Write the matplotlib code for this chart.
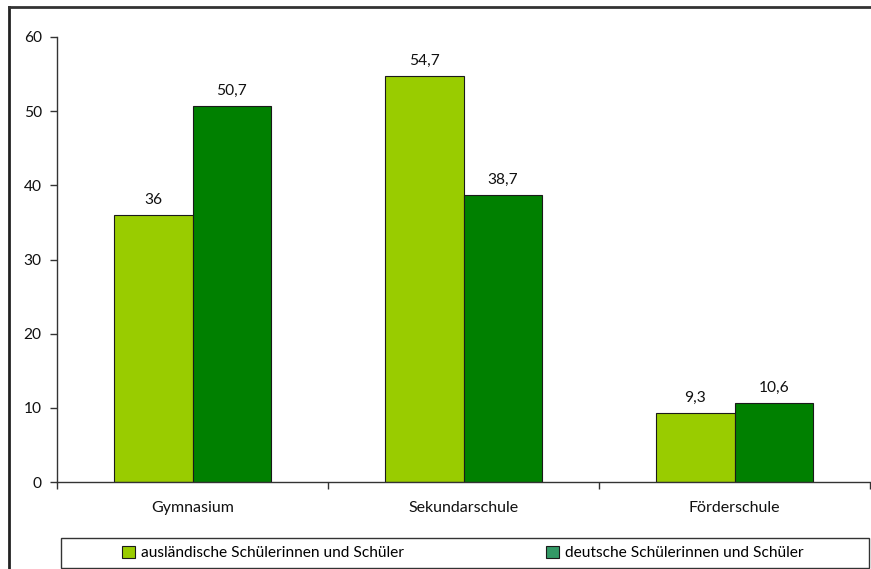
import matplotlib
matplotlib.use("Agg")
import matplotlib.pyplot as plt
from matplotlib.lines import Line2D
from matplotlib.patches import Patch, Rectangle
import numpy as np

plt.rcParams['font.family'] = ['Lato', 'DejaVu Sans']

categories = ["Gymnasium", "Sekundarschule", "Förderschule"]
series_names = ["ausländische Schülerinnen und Schüler", "deutsche Schülerinnen und Schüler"]
auslaendisch = [36.0, 54.7, 9.3]
deutsch = [50.7, 38.7, 10.6]
y_ticks = [0, 10, 20, 30, 40, 50, 60]

bar_colors = ["#99cc00", "#008000"]
legend_colors = ["#99cc00", "#339966"]


def fmt(v):
    s = f"{v:.1f}".replace(".", ",")
    return s[:-2] if s.endswith(",0") else s


W, H = 871, 569
fig = plt.figure(figsize=(W / 100, H / 100), dpi=100)
ax = fig.add_axes([57 / W, 1 - 482 / H, (870 - 57) / W, (482 - 37) / H])

x = np.arange(len(categories))
bw = 0.29
for i, (vals, col) in enumerate(zip([auslaendisch, deutsch], bar_colors)):
    pos = x + (i - 0.5) * bw
    bars = ax.bar(pos, vals, width=bw, color=col, edgecolor="#1a1a1a", linewidth=0.8, zorder=2)
    for b, v in zip(bars, vals):
        ax.text(b.get_x() + b.get_width() / 2, v + 1.1, fmt(v), ha="center", va="bottom",
                fontsize=11.2, color="#111111")

ax.set_xlim(-0.5, len(categories) - 0.5)
ax.set_ylim(0, 60)
ax.set_yticks(y_ticks)
ax.set_yticklabels([str(t) for t in y_ticks], fontsize=11.2, color="#111111")
ax.set_xticks(np.arange(len(categories) + 1) - 0.5)
ax.set_xticklabels([])
ax.set_xticks(x, minor=True)
ax.set_xticklabels(categories, minor=True, fontsize=11.5, color="#111111")
ax.tick_params(axis="x", which="minor", length=0, pad=14)
ax.tick_params(axis="x", which="major", length=5, width=1, color="#333333")
ax.tick_params(axis="y", length=5, width=1, color="#333333", pad=6)
for s in ["top", "right"]:
    ax.spines[s].set_visible(False)
for s in ["left", "bottom"]:
    ax.spines[s].set_color("#333333")
    ax.spines[s].set_linewidth(1)

# legend frame spanning the chart width, each entry centred in its half
lx0, lx1, ly0, ly1 = 61, 869, 538, 568
fig.add_artist(Rectangle((lx0 / W, 1 - ly1 / H), (lx1 - lx0) / W, (ly1 - ly0) / H,
                         transform=fig.transFigure, facecolor="white",
                         edgecolor="#333333", linewidth=1))
half = (lx1 - lx0) / 2
for k, (name, col) in enumerate(zip(series_names, legend_colors)):
    cx = lx0 + half * (k + 0.5) + (8 if k == 1 else 0)
    leg = fig.legend([Patch(facecolor=col, edgecolor="#1a1a1a", linewidth=0.8)], [name],
                     loc="center", bbox_to_anchor=(cx / W, 1 - (ly0 + ly1) / 2 / H),
                     frameon=False, fontsize=11.2, handlelength=0.8, handleheight=0.8,
                     handletextpad=0.4, borderpad=0)

# outer chart border (left and top)
fig.add_artist(Line2D([9 / W, 9 / W], [0, 1 - 7 / H], transform=fig.transFigure,
                      color="#222222", linewidth=2))
fig.add_artist(Line2D([9 / W, 1], [1 - 7 / H, 1 - 7 / H], transform=fig.transFigure,
                      color="#333333", linewidth=2))

fig.savefig("out.png", dpi=100)
